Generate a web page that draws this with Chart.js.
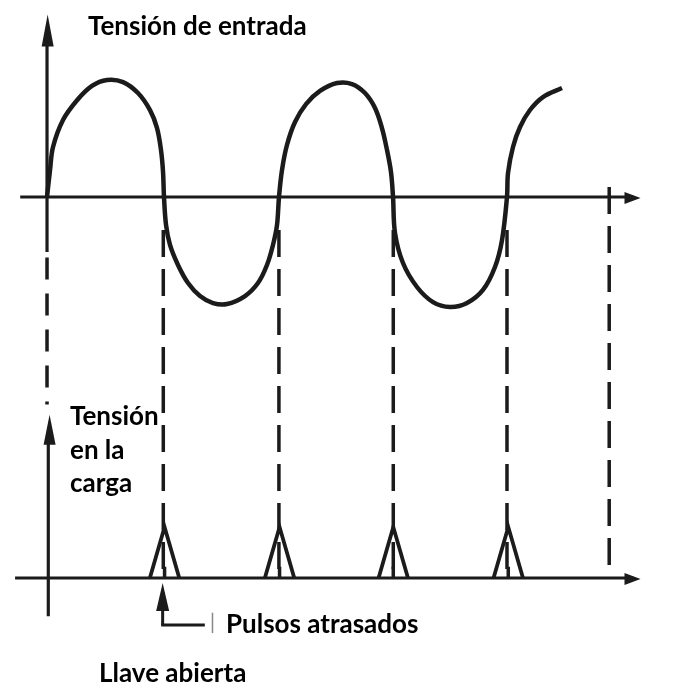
<!DOCTYPE html>
<html>
<head>
<meta charset="utf-8">
<script src="https://cdn.jsdelivr.net/npm/chart.js@4.4.1/dist/chart.umd.min.js"></script>
<style>
  body { margin: 0; background: #fff; }
  #wrap { width: 683px; height: 695px; }
</style>
</head>
<body>
<div id="wrap"><canvas id="chart" width="683" height="695"></canvas></div>
<script>
// Tensión de entrada (x in degrees, value relative to the peak)
const inputDeg = [0, 4.7, 9.4, 25, 47, 70.4, 93.9, 119, 142.4, 161.2, 172.2, 178.4, 181.6, 183.1,
                  186.3, 192.5, 205, 220.7, 239.5, 259.8, 281.7, 309.9, 330.2, 344.3, 353.7, 360, 363.1,
                  367.8, 375.6, 388.2, 405.4, 427.3, 453.9, 477.4, 497.7, 513.4, 524.3, 532.2, 538.4, 541.6,
                  544.7, 557.2, 579.1, 604.2, 630.8, 657.4, 682.4, 701.2, 712.2, 720,
                  721.6, 729.4, 740.4, 756, 776.3, 806.1];
const inputV =   [0, 0.245, 0.455, 0.70, 0.88, 1.01, 1.064, 1.045, 0.945, 0.79, 0.627, 0.427, 0.227, 0,
                  -0.255, -0.436, -0.618, -0.782, -0.9, -0.964, -0.973, -0.9, -0.782, -0.618, -0.436, -0.255, 0,
                  0.245, 0.473, 0.682, 0.845, 0.964, 1.036, 1.027, 0.945, 0.809, 0.627, 0.427, 0.227, 0,
                  -0.327, -0.6, -0.818, -0.955, -1.0, -0.964, -0.845, -0.636, -0.391, 0,
                  0.218, 0.455, 0.636, 0.791, 0.909, 0.991];

// Tensión en la carga: delayed pulses
const pulseDeg = [184, 364, 542, 722];
const pulseHeight = 1;
const pulseHalfWidth = 23;
const pulseTick = 0.22;

// dashed guide lines
const guideDeg = [0, 182, 363, 542, 720, 880];

const ink = '#1b1b1b';

const curvePoints = inputDeg.map((d, i) => ({ x: d, y: inputV[i] }));

const pulsePoints = [];
const tickPoints = [];
pulseDeg.forEach(d => {
    pulsePoints.push({ x: d - pulseHalfWidth, y: 0 }, { x: d, y: pulseHeight }, { x: d + pulseHalfWidth, y: 0 }, { x: null, y: null });
    tickPoints.push({ x: d, y: 0 }, { x: d, y: pulseTick }, { x: null, y: null });
});

function arrowHead(ctx, tx, ty, dx, dy, len, hw) {
    const bx = tx - dx * len, by = ty - dy * len;
    ctx.beginPath();
    ctx.moveTo(tx, ty);
    ctx.lineTo(bx - dy * hw, by + dx * hw);
    ctx.lineTo(bx + dy * hw, by - dx * hw);
    ctx.closePath();
    ctx.fill();
}

function seg(ctx, x1, y1, x2, y2) {
    ctx.beginPath();
    ctx.moveTo(x1, y1);
    ctx.lineTo(x2, y2);
    ctx.stroke();
}

const drawing = {
    id: 'drawing',
    beforeDatasetsDraw(chart) {
        const { ctx } = chart;
        const x = chart.scales.x, y = chart.scales.y, y2 = chart.scales.y2;
        ctx.save();
        ctx.strokeStyle = ink;
        ctx.fillStyle = ink;
        ctx.lineCap = 'butt';

        // dashed guides between the two plots
        ctx.lineWidth = 3.5;
        guideDeg.forEach((d, i) => {
            const px = x.getPixelForValue(d);
            if (i === 0) {
                ctx.setLineDash([22, 14]);
                seg(ctx, px, y.getPixelForValue(-0.55), px, y2.getPixelForValue(3.4));
            } else {
                ctx.setLineDash([27, 12]);
                const top = i === guideDeg.length - 1 ? y.getPixelForValue(0.09) : y.getPixelForValue(-0.3);
                seg(ctx, px, top, px, y2.getPixelForValue(0));
            }
        });
        ctx.setLineDash([]);

        // top axes
        ctx.lineWidth = 3.2;
        seg(ctx, x.getPixelForValue(-42), y.getPixelForValue(0), x.getPixelForValue(918), y.getPixelForValue(0));
        seg(ctx, x.getPixelForValue(0), y.getPixelForValue(-0.5), x.getPixelForValue(0), y.getPixelForValue(1.5));
        arrowHead(ctx, x.getPixelForValue(929), y.getPixelForValue(0) + 1, 1, 0, 16, 6);
        arrowHead(ctx, x.getPixelForValue(1), y.getPixelForValue(1.66), 0, -1, 32, 6);

        // bottom axes
        seg(ctx, x.getPixelForValue(-50), y2.getPixelForValue(0), x.getPixelForValue(918), y2.getPixelForValue(0));
        seg(ctx, x.getPixelForValue(2), y2.getPixelForValue(-0.75), x.getPixelForValue(2), y2.getPixelForValue(2.8));
        arrowHead(ctx, x.getPixelForValue(929), y2.getPixelForValue(0) + 1, 1, 0, 16, 6);
        arrowHead(ctx, x.getPixelForValue(4), y2.getPixelForValue(3.2), 0, -1, 30, 6);

        // pointer to the first pulse
        const pd = pulseDeg[0] - 3;
        ctx.lineWidth = 3;
        seg(ctx, x.getPixelForValue(pd), y2.getPixelForValue(-0.92), x.getPixelForValue(pd), y2.getPixelForValue(-0.5));
        seg(ctx, x.getPixelForValue(pd) - 1.5, y2.getPixelForValue(-0.92), x.getPixelForValue(pd + 66), y2.getPixelForValue(-0.92));
        arrowHead(ctx, x.getPixelForValue(pd), y2.getPixelForValue(-0.1), 0, -1, 28, 6.5);
        ctx.strokeStyle = '#888';
        ctx.lineWidth = 1.5;
        seg(ctx, x.getPixelForValue(pd + 78), y2.getPixelForValue(-0.68), x.getPixelForValue(pd + 78), y2.getPixelForValue(-1.08));
        ctx.restore();
    },
    afterDatasetsDraw(chart) {
        const { ctx } = chart;
        ctx.save();
        ctx.fillStyle = '#000';
        ctx.font = 'bold 26px Lato';
        ctx.textBaseline = 'alphabetic';
        ctx.fillText('Tensión de entrada', 88, 35);
        ctx.fillText('Tensión', 70, 425);
        ctx.fillText('en la', 70, 459);
        ctx.fillText('carga', 70, 492);
        ctx.fillText('Pulsos atrasados', 226, 633);
        ctx.fillText('Llave abierta', 99, 682);
        ctx.restore();
    }
};

new Chart(document.getElementById('chart'), {
    type: 'scatter',
    data: {
        datasets: [
            {
                label: 'Tensión de entrada',
                data: curvePoints,
                yAxisID: 'y',
                showLine: true,
                borderColor: ink,
                borderWidth: 4.5,
                pointRadius: 0,
                tension: 0.35
            },
            {
                label: 'Pulsos atrasados',
                data: pulsePoints,
                yAxisID: 'y2',
                showLine: true,
                spanGaps: false,
                borderColor: ink,
                borderWidth: 3.8,
                borderJoinStyle: 'miter',
                pointRadius: 0
            },
            {
                label: 'tick',
                data: tickPoints,
                yAxisID: 'y2',
                showLine: true,
                spanGaps: false,
                borderColor: ink,
                borderWidth: 3.5,
                pointRadius: 0
            }
        ]
    },
    options: {
        responsive: false,
        animation: false,
        events: [],
        layout: { padding: 0 },
        plugins: { legend: { display: false }, tooltip: { enabled: false } },
        scales: {
            x: { type: 'linear', min: -73.6, max: 995.5, display: false },
            y: { type: 'linear', min: -4.527, max: 1.791, display: false },
            y2: { type: 'linear', min: -2.294, max: 11.333, display: false }
        }
    },
    plugins: [drawing]
});
</script>
</body>
</html>
